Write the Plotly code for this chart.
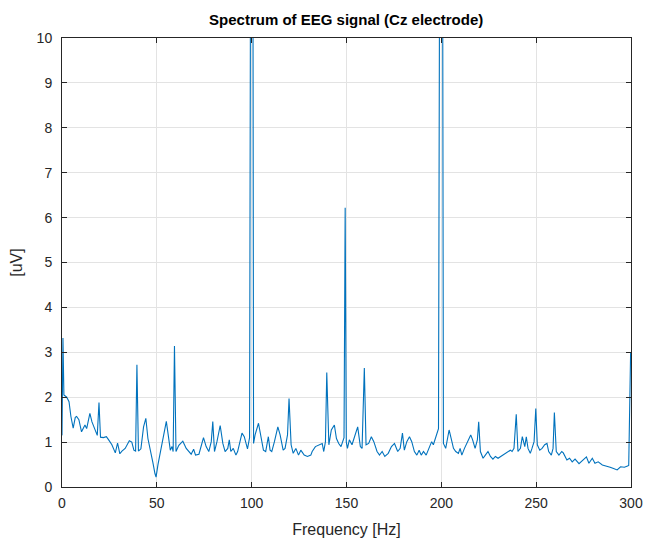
import plotly.graph_objects as go

freq_hz = [
    0, 0.5, 1.0, 2.5, 3.7, 4.7, 5.9, 7.0, 7.7, 8.9, 10.3, 12.1, 13.0, 14.7, 15.8, 17.0, 17.8, 18.6,
    19.5, 20.3, 21.8, 23.4, 24.6, 26.3, 28.1, 29.3, 30.5, 31.6, 33.3, 35.5, 36.8, 37.9, 38.8, 39.5,
    40.3, 41.6, 43.0, 44.2, 45.3, 46.5, 47.9, 49.0, 49.6, 50.6, 52.3, 53.6, 55.0, 56.0, 57.1, 58.0,
    58.6, 59.3, 60.1, 61.6, 63.7, 65.5, 66.9, 68.1, 69.4, 70.4, 72.2, 73.4, 74.6, 76.0, 77.4, 78.7,
    79.5, 80.4, 81.7, 83.4, 84.8, 86.0, 87.4, 88.2, 89.0, 90.3, 91.7, 92.6, 93.8, 94.9, 96.1, 97.0,
    97.8, 98.9, 99.5, 100.1, 100.6, 101.0, 101.8, 103.6, 105.0, 106.2, 107.4, 108.8, 109.7, 110.6,
    112.0, 113.8, 115.0, 116.6, 117.6, 118.9, 119.7, 120.8, 121.9, 123.3, 124.7, 125.9, 127.7,
    129.4, 131.2, 131.9, 133.6, 135.4, 137.2, 138.0, 138.9, 139.6, 140.7, 142.0, 143.6, 144.7,
    145.9, 147.1, 148.2, 148.7, 149.3, 149.9, 150.5, 151.5, 152.9, 154.7, 155.9, 157.3, 158.2,
    159.4, 160.3, 161.7, 163.1, 164.4, 166.1, 167.4, 168.8, 170.2, 172.0, 173.7, 175.3, 177.0,
    178.3, 179.5, 180.5, 181.8, 183.2, 184.4, 185.8, 187.1, 188.3, 189.4, 190.6, 192.0, 193.2,
    194.9, 195.8, 196.7, 197.6, 198.5, 199.2, 199.9, 200.6, 201.1, 202.3, 204.1, 205.2, 206.4,
    207.6, 209.0, 209.9, 210.8, 212.2, 213.9, 215.5, 216.5, 217.8, 219.0, 219.7, 220.6, 222.0,
    223.2, 224.6, 225.9, 227.2, 228.5, 229.9, 231.3, 232.5, 233.8, 235.2, 236.4, 237.3, 238.3,
    239.5, 240.4, 241.7, 242.7, 244.0, 244.8, 245.7, 246.9, 247.8, 248.9, 249.8, 250.6, 251.9,
    253.1, 254.5, 255.7, 256.6, 258.0, 258.9, 259.6, 260.6, 262.0, 263.5, 264.3, 266.2, 267.6,
    269.0, 270.5, 272.6, 274.3, 276.5, 277.8, 279.6, 281.0, 282.7, 284.9, 287.0, 289.0, 290.8,
    292.7, 294.5, 296.5, 298.2, 298.8, 299.8,
]

amplitude_uv = [
    1.15, 3.32, 2.05, 2.00, 1.90, 1.57, 1.31, 1.55, 1.57, 1.50, 1.23, 1.38, 1.30, 1.64, 1.45, 1.30,
    1.20, 1.15, 1.88, 1.11, 1.10, 1.12, 1.05, 0.94, 0.76, 0.98, 0.74, 0.80, 0.86, 1.03, 1.00, 0.82,
    0.80, 2.72, 0.80, 0.85, 1.34, 1.53, 1.08, 0.86, 0.55, 0.30, 0.22, 0.50, 0.90, 1.16, 1.46, 1.16,
    0.82, 0.90, 0.79, 3.14, 0.79, 0.93, 1.02, 0.86, 0.79, 0.73, 0.84, 0.71, 0.73, 0.90, 1.10, 0.90,
    0.79, 1.01, 1.46, 0.79, 1.01, 1.37, 0.97, 0.79, 0.86, 1.05, 0.79, 0.86, 0.71, 0.79, 1.05, 1.20,
    1.12, 0.94, 0.85, 1.10, 14.0, 18.0, 14.0, 0.97, 1.16, 1.42, 1.08, 0.82, 0.79, 1.12, 0.82, 0.79,
    1.01, 1.34, 1.16, 0.82, 0.86, 1.16, 1.97, 0.94, 0.75, 0.86, 0.71, 0.82, 0.71, 0.68, 0.71, 0.79,
    0.90, 0.94, 0.97, 0.79, 1.01, 2.55, 0.94, 1.27, 1.38, 1.08, 0.97, 0.90, 1.08, 1.10, 6.22, 1.00,
    0.86, 1.05, 0.94, 1.16, 1.34, 0.90, 0.86, 2.65, 0.94, 0.97, 1.12, 1.01, 0.79, 0.71, 0.79, 0.68,
    0.75, 0.90, 0.97, 0.79, 0.86, 1.20, 0.82, 1.01, 1.12, 1.01, 0.79, 0.71, 0.82, 0.71, 0.79, 0.71,
    0.82, 1.01, 0.94, 1.05, 1.16, 1.30, 14.0, 18.0, 14.0, 0.97, 0.86, 1.27, 1.08, 0.86, 0.79, 0.75,
    0.86, 0.71, 0.86, 1.01, 1.16, 1.05, 0.86, 1.05, 1.45, 0.79, 0.64, 0.71, 0.79, 0.68, 0.62, 0.68,
    0.64, 0.68, 0.71, 0.75, 0.79, 0.82, 0.79, 0.86, 1.62, 0.79, 0.86, 1.12, 0.90, 1.12, 0.86, 0.75,
    0.86, 1.01, 1.75, 0.94, 0.82, 0.86, 0.94, 0.97, 0.79, 0.71, 0.86, 1.66, 0.79, 0.71, 0.79, 0.76,
    0.60, 0.64, 0.56, 0.62, 0.52, 0.58, 0.67, 0.53, 0.64, 0.53, 0.56, 0.49, 0.47, 0.44, 0.41, 0.38,
    0.45, 0.44, 0.47, 0.48, 3.00,
]

x_ticks = [0, 50, 100, 150, 200, 250, 300]
y_ticks = [0, 1, 2, 3, 4, 5, 6, 7, 8, 9, 10]

title_text = "Spectrum of EEG signal (Cz electrode)"
x_label = "Frequency [Hz]"
y_label = "[uV]"

FONT = "Liberation Sans, Arial, Helvetica, sans-serif"
AXIS_COLOR = "#262626"
GRID_COLOR = "#e3e3e3"

fig = go.Figure()
fig.add_trace(go.Scatter(
    x=freq_hz, y=amplitude_uv, mode="lines",
    line=dict(color="#0072BD", width=1.1),
    hoverinfo="skip", showlegend=False,
))

axis_common = dict(
    showline=True, linecolor=AXIS_COLOR, linewidth=1, mirror="allticks",
    ticks="inside", ticklen=5, tickcolor=AXIS_COLOR, tickwidth=1,
    showgrid=True, gridcolor=GRID_COLOR, gridwidth=1, zeroline=False,
    automargin=False,
    tickfont=dict(family=FONT, size=14, color=AXIS_COLOR),
)

fig.update_layout(
    width=647, height=542,
    margin=dict(l=62, r=16, t=38, b=55),
    paper_bgcolor="white", plot_bgcolor="white",
    title=dict(text="<b>" + title_text + "</b>", x=0.535, xanchor="center",
               y=1 - 20 / 542, yanchor="middle",
               font=dict(family=FONT, size=15, color="#000000")),
    xaxis=dict(range=[0, 300], tickvals=x_ticks, ticklabelstandoff=3,
               title=dict(text=x_label, standoff=14,
                          font=dict(family=FONT, size=16, color=AXIS_COLOR)),
               **axis_common),
    yaxis=dict(range=[0, 10], tickvals=y_ticks, ticklabelstandoff=6,
               title=dict(text=y_label, standoff=10,
                          font=dict(family=FONT, size=16, color=AXIS_COLOR)),
               **axis_common),
)

fig.write_html("out.html", config={"displayModeBar": False},
               post_script="document.body.style.margin='0';")
